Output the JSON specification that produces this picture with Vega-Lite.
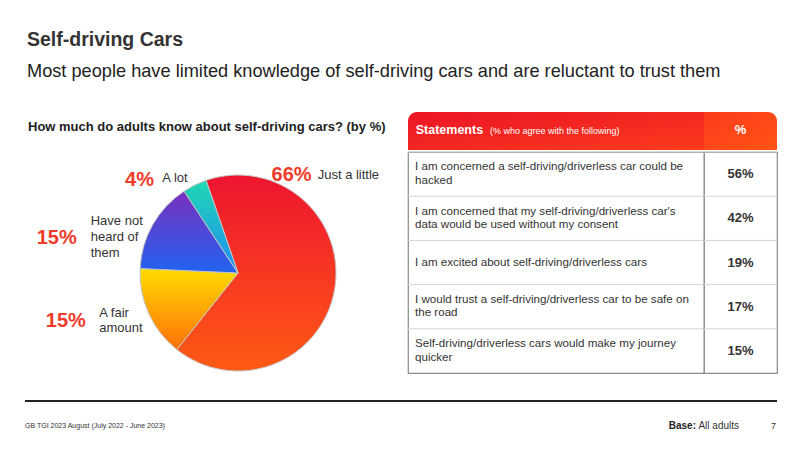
{
  "$schema": "https://vega.github.io/schema/vega-lite/v6.json",
  "background": "white",
  "padding": {"left": 25, "top": 30, "right": 0, "bottom": 0},
  "title": {
    "text": "Self-driving Cars",
    "subtitle": "Most people have limited knowledge of self-driving cars and are reluctant to trust them",
    "anchor": "start",
    "dx": 2,
    "fontSize": 19.5,
    "fontWeight": "bold",
    "color": "#333333",
    "subtitleFontSize": 18.2,
    "subtitleColor": "#222222",
    "subtitlePadding": 12,
    "offset": 31
  },
  "datasets": {
    "knowledge": [
      {"answer": "Just a little", "share": 0.66, "rank": 1},
      {"answer": "A fair\namount", "share": 0.15, "rank": 2},
      {"answer": "Have not\nheard  of\nthem", "share": 0.15, "rank": 3},
      {"answer": "A lot", "share": 0.04, "rank": 4}
    ],
    "header": [
      {"title": "Statements", "note": "(% who agree  with the following)", "col": "%"}
    ],
    "statements": [
      {"statement": "I am concerned a self-driving/driverless car could be\nhacked", "share": 0.56},
      {"statement": "I am concerned that my self-driving/driverless car's\ndata would be used without my consent", "share": 0.42},
      {"statement": "I am excited about self-driving/driverless cars", "share": 0.19},
      {"statement": "I would trust a self-driving/driverless car to be safe on\nthe road", "share": 0.17},
      {"statement": "Self-driving/driverless cars would make my journey\nquicker", "share": 0.15}
    ],
    "footer": [
      {"source": "GB TGI 2023 August (July 2022 - June 2023)", "baseLabel": "Base:", "base": "All adults", "page": "7"}
    ]
  },
  "spacing": 26,
  "vconcat": [
    {
      "spacing": 0,
      "hconcat": [
        {
          "width": 381,
          "height": 260,
          "title": {
            "text": "How much do adults know about self-driving cars? (by %)",
            "anchor": "start",
            "dx": 3,
            "offset": -22,
            "fontSize": 13,
            "fontWeight": "bold",
            "color": "#222222"
          },
          "data": {"name": "knowledge"},
          "transform": [
            {"stack": "share", "groupby": [], "sort": [{"field": "rank", "order": "ascending"}], "as": ["s0", "s1"]}
          ],
          "layer": [
            {
              "mark": {"type": "arc", "outerRadius": 98, "xOffset": 22.5, "yOffset": 31, "stroke": "#c4c4c4", "strokeWidth": 1},
              "encoding": {
                "theta": {"field": "s0", "type": "quantitative", "scale": {"domain": [0, 1], "range": [-0.3316, 5.9516]}},
                "theta2": {"field": "s1"},
                "color": {
                  "condition": [
                    {"test": "datum.rank === 1", "value": {"gradient": "linear", "x1": 0, "y1": 0, "x2": 0, "y2": 1, "stops": [{"offset": 0, "color": "#EE1530"}, {"offset": 1, "color": "#FF5A14"}]}},
                    {"test": "datum.rank === 2", "value": {"gradient": "linear", "x1": 0, "y1": 0, "x2": 0, "y2": 1, "stops": [{"offset": 0, "color": "#FFDD00"}, {"offset": 1, "color": "#FF700A"}]}},
                    {"test": "datum.rank === 3", "value": {"gradient": "linear", "x1": 0, "y1": 0, "x2": 0, "y2": 1, "stops": [{"offset": 0, "color": "#7A2FBE"}, {"offset": 1, "color": "#2163F0"}]}},
                    {"test": "datum.rank === 4", "value": {"gradient": "linear", "x1": 0, "y1": 0, "x2": 0, "y2": 1, "stops": [{"offset": 0, "color": "#20D8B2"}, {"offset": 1, "color": "#1E8CF5"}]}}
                  ],
                  "value": "#cccccc"
                }
              }
            },
            {
              "transform": [{"filter": "datum.rank === 1"}],
              "mark": {"type": "text", "radius": 110, "xOffset": 22.5, "yOffset": 31, "dx": 89.4, "dy": 6, "align": "center", "baseline": "middle", "fontSize": 20, "fontWeight": "bold", "color": "#EE3B2A"},
              "encoding": {"theta": {"field": "s0", "type": "quantitative"}, "text": {"field": "share", "type": "quantitative", "format": ".0%"}}
            },
            {
              "transform": [{"filter": "datum.rank === 1"}],
              "mark": {"type": "text", "radius": 110, "xOffset": 22.5, "yOffset": 31, "dx": 115.5, "dy": 6, "align": "left", "baseline": "middle", "fontSize": 13, "color": "#333333"},
              "encoding": {"theta": {"field": "s0", "type": "quantitative"}, "text": {"field": "answer"}}
            },
            {
              "transform": [{"filter": "datum.rank === 2"}],
              "mark": {"type": "text", "radius": 110, "xOffset": 22.5, "yOffset": 31, "dx": -103.6, "dy": -38, "align": "center", "baseline": "middle", "fontSize": 20, "fontWeight": "bold", "color": "#EE3B2A"},
              "encoding": {"theta": {"field": "s0", "type": "quantitative"}, "text": {"field": "share", "type": "quantitative", "format": ".0%"}}
            },
            {
              "transform": [{"filter": "datum.rank === 2"}],
              "mark": {"type": "text", "radius": 110, "xOffset": 22.5, "yOffset": 31, "dx": -70.1, "dy": -45.7, "align": "left", "baseline": "middle", "fontSize": 13, "lineBreak": "\n", "lineHeight": 15, "color": "#333333"},
              "encoding": {"theta": {"field": "s0", "type": "quantitative"}, "text": {"field": "answer"}}
            },
            {
              "transform": [{"filter": "datum.rank === 3"}],
              "mark": {"type": "text", "radius": 110, "xOffset": 22.5, "yOffset": 31, "dx": -71.4, "dy": -30, "align": "center", "baseline": "middle", "fontSize": 20, "fontWeight": "bold", "color": "#EE3B2A"},
              "encoding": {"theta": {"field": "s0", "type": "quantitative"}, "text": {"field": "share", "type": "quantitative", "format": ".0%"}}
            },
            {
              "transform": [{"filter": "datum.rank === 3"}],
              "mark": {"type": "text", "radius": 110, "xOffset": 22.5, "yOffset": 31, "dx": -37.4, "dy": -47, "align": "left", "baseline": "middle", "fontSize": 13, "lineBreak": "\n", "lineHeight": 15.8, "color": "#333333"},
              "encoding": {"theta": {"field": "s0", "type": "quantitative"}, "text": {"field": "answer"}}
            },
            {
              "transform": [{"filter": "datum.rank === 4"}],
              "mark": {"type": "text", "radius": 110, "xOffset": 22.5, "yOffset": 31, "dx": -37.9, "dy": -1.2, "align": "center", "baseline": "middle", "fontSize": 20, "fontWeight": "bold", "color": "#EE3B2A"},
              "encoding": {"theta": {"field": "s0", "type": "quantitative"}, "text": {"field": "share", "type": "quantitative", "format": ".0%"}}
            },
            {
              "transform": [{"filter": "datum.rank === 4"}],
              "mark": {"type": "text", "radius": 110, "xOffset": 22.5, "yOffset": 31, "dx": -15.1, "dy": -3.5, "align": "left", "baseline": "middle", "fontSize": 13, "color": "#333333"},
              "encoding": {"theta": {"field": "s0", "type": "quantitative"}, "text": {"field": "answer"}}
            }
          ]
        },
        {
          "spacing": 0,
          "vconcat": [
            {
              "spacing": 0,
              "bounds": "flush",
              "hconcat": [
                {
                  "width": 296,
                  "height": 38,
                  "data": {"name": "header"},
                  "layer": [
                    {
                      "mark": {"type": "rect", "cornerRadiusTopLeft": 9, "color": {"gradient": "linear", "x1": 0, "y1": 0, "x2": 1, "y2": 1, "stops": [{"offset": 0, "color": "#EC1426"}, {"offset": 1, "color": "#FB3B1C"}]}},
                      "encoding": {}
                    },
                    {
                      "mark": {"type": "text", "align": "left", "baseline": "middle", "dx": -140.3, "dy": -1, "fontSize": 12.5, "fontWeight": "bold", "color": "white"},
                      "encoding": {"text": {"field": "title"}}
                    },
                    {
                      "mark": {"type": "text", "align": "left", "baseline": "middle", "dx": -66, "dy": 0, "fontSize": 9, "color": "white"},
                      "encoding": {"text": {"field": "note"}}
                    }
                  ]
                },
                {
                  "width": 73,
                  "height": 38,
                  "data": {"name": "header"},
                  "layer": [
                    {
                      "mark": {"type": "rect", "cornerRadiusTopRight": 9, "color": {"gradient": "linear", "x1": 0, "y1": 0, "x2": 1, "y2": 1, "stops": [{"offset": 0, "color": "#FB3B1C"}, {"offset": 1, "color": "#FF5414"}]}},
                      "encoding": {}
                    },
                    {
                      "mark": {"type": "text", "align": "center", "baseline": "middle", "dy": -1, "fontSize": 13, "fontWeight": "bold", "color": "white"},
                      "encoding": {"text": {"field": "col"}}
                    }
                  ]
                }
              ]
            },
            {
              "spacing": 0,
              "bounds": "flush",
              "hconcat": [
                {
                  "width": 296,
                  "height": 221,
                  "view": {"fill": "white", "stroke": "#8c8c8c", "strokeWidth": 1.2},
                  "data": {"name": "statements"},
                  "encoding": {
                    "y": {"field": "statement", "type": "nominal", "sort": null, "axis": null, "scale": {"paddingInner": 0, "paddingOuter": 0}}
                  },
                  "layer": [
                    {"mark": {"type": "rule", "color": "#d4d4d4", "strokeWidth": 1}, "encoding": {"y": {"field": "statement", "type": "nominal", "sort": null, "bandPosition": 0}}},
                    {
                      "transform": [{"filter": "indexof(datum.statement, '\\n') >= 0"}],
                      "mark": {"type": "text", "align": "left", "baseline": "middle", "dx": -141, "dy": -6.75, "fontSize": 11.6, "lineBreak": "\n", "lineHeight": 13.5, "color": "#333333"},
                      "encoding": {"text": {"field": "statement"}}
                    },
                    {
                      "transform": [{"filter": "indexof(datum.statement, '\\n') < 0"}],
                      "mark": {"type": "text", "align": "left", "baseline": "middle", "dx": -141, "fontSize": 11.6, "color": "#333333"},
                      "encoding": {"text": {"field": "statement"}}
                    }
                  ]
                },
                {
                  "width": 73,
                  "height": 221,
                  "view": {"fill": "white", "stroke": "#8c8c8c", "strokeWidth": 1.2},
                  "data": {"name": "statements"},
                  "encoding": {
                    "y": {"field": "statement", "type": "nominal", "sort": null, "axis": null, "scale": {"paddingInner": 0, "paddingOuter": 0}}
                  },
                  "layer": [
                    {"mark": {"type": "rule", "color": "#d4d4d4", "strokeWidth": 1}, "encoding": {"y": {"field": "statement", "type": "nominal", "sort": null, "bandPosition": 0}}},
                    {
                      "mark": {"type": "text", "align": "center", "baseline": "middle", "fontSize": 13, "fontWeight": "bold", "color": "#333333"},
                      "encoding": {"text": {"field": "share", "type": "quantitative", "format": ".0%"}}
                    }
                  ]
                }
              ]
            }
          ]
        }
      ]
    },
    {
      "width": 752,
      "height": 2,
      "view": {"fill": "#222222", "stroke": null},
      "data": {"name": "footer"},
      "layer": [
        {
          "mark": {"type": "text", "align": "left", "baseline": "middle", "dy": 25, "fontSize": 7, "color": "#333333"},
          "encoding": {"x": {"datum": 0, "type": "quantitative", "scale": {"domain": [0, 1]}, "axis": null}, "text": {"field": "source"}}
        },
        {
          "mark": {"type": "text", "align": "right", "baseline": "middle", "dy": 25, "dx": -81, "fontSize": 10, "fontWeight": "bold", "color": "#222222"},
          "encoding": {"x": {"datum": 1, "type": "quantitative", "scale": {"domain": [0, 1]}, "axis": null}, "text": {"field": "baseLabel"}}
        },
        {
          "mark": {"type": "text", "align": "right", "baseline": "middle", "dy": 25, "dx": -38, "fontSize": 10, "color": "#333333"},
          "encoding": {"x": {"datum": 1, "type": "quantitative", "scale": {"domain": [0, 1]}, "axis": null}, "text": {"field": "base"}}
        },
        {
          "mark": {"type": "text", "align": "right", "baseline": "middle", "dy": 25, "dx": -1, "fontSize": 9, "color": "#333333"},
          "encoding": {"x": {"datum": 1, "type": "quantitative", "scale": {"domain": [0, 1]}, "axis": null}, "text": {"field": "page"}}
        }
      ]
    }
  ],
  "config": {
    "font": "Liberation Sans",
    "view": {"stroke": null}
  }
}
